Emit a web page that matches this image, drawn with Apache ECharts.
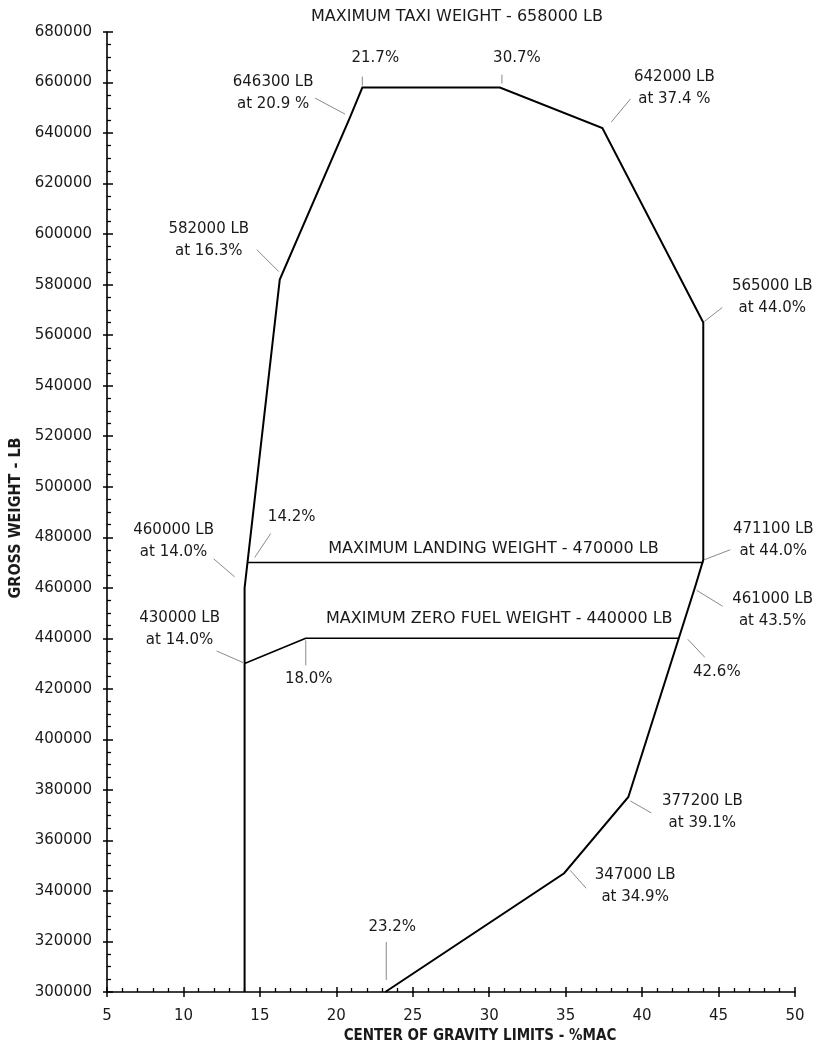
<!DOCTYPE html>
<html>
<head>
<meta charset="utf-8">
<script src="https://cdn.jsdelivr.net/npm/echarts@6/dist/echarts.min.js"></script>
<style>
html,body{margin:0;padding:0;background:#fff;}
#chart{width:816px;height:1048px;}
</style>
</head>
<body>
<div id="chart"></div>
<script>
// ---------------- data ----------------
const xMin = 5, xMax = 50, xStep = 5;
const yMin = 300000, yMax = 680000, yStep = 20000;

const chartTitle = 'MAXIMUM TAXI WEIGHT - 658000 LB';
const xTitle = 'CENTER OF GRAVITY LIMITS - %MAC';
const yTitle = 'GROSS WEIGHT - LB';

// envelope outline (CG %MAC, weight LB)
const envelopeCG     = [14.0, 14.0, 16.3, 20.9, 21.7, 30.7, 37.4, 44.0, 44.0, 43.5, 39.1, 34.9, 23.2];
const envelopeWeight = [300000, 460000, 582000, 646300, 658000, 658000, 642000, 565000, 471100, 461000, 377200, 347000, 300000];

// maximum landing weight line
const landingCG     = [14.2, 44.0];
const landingWeight = [470000, 470000];
const landingText   = 'MAXIMUM LANDING WEIGHT - 470000 LB';

// maximum zero fuel weight line
const zeroFuelCG     = [14.0, 18.0, 42.4];
const zeroFuelWeight = [430000, 440000, 440000];
const zeroFuelText   = 'MAXIMUM ZERO FUEL WEIGHT - 440000 LB';

// callouts
const calloutCG     = [20.9, 21.7, 30.7, 37.4, 16.3, 44.0, 14.0, 14.2, 14.0, 18.0, 44.0, 43.5, 42.4, 39.1, 34.9, 23.2];
const calloutWeight = [646300, 658000, 658000, 642000, 582000, 565000, 460000, 470000, 430000, 440000, 471100, 461000, 440000, 377200, 347000, 300000];
const calloutText   = [
  '646300 LB\nat 20.9 %', '21.7%', '30.7%', '642000 LB\nat 37.4 %',
  '582000 LB\nat 16.3%', '565000 LB\nat 44.0%', '460000 LB\nat 14.0%', '14.2%',
  '430000 LB\nat 14.0%', '18.0%', '471100 LB\nat 44.0%', '461000 LB\nat 43.5%',
  '42.6%', '377200 LB\nat 39.1%', '347000 LB\nat 34.9%', '23.2%'
];

// ---------------- layout (pixel offsets from anchor) ----------------
// [leaderStartDx, leaderStartDy, leaderEndDx, leaderEndDy, textDx, textDy]
const calloutLayout = [
  [-5,-3,-35,-19,-77,-24],
  [0,-2,0,-11,13,-29],
  [2,-4,2,-13,17,-29],
  [9,-6,28,-29,72,-40],
  [-1,-8,-23,-30,-71,-39],
  [1,-1,19,-15,69,-25],
  [-10,-11,-31,-29,-71,-47],
  [7,-5,23,-29,44,-45],
  [-1.5,-1,-28,-12.6,-65,-34],
  [0,2,0,27,3,41],
  [1,0,27,-10,70,-20],
  [1,5,27,21,77,25],
  [9,1,26,19,38,34],
  [2,4,23,16,74,15],
  [6,-3,22,15,71,13],
  [1,-12,1,-50,7,-65]
];
const landingTextOffset  = [18, -14];
const zeroFuelTextOffset = [7, -19];

const FONT = '"DejaVu Sans", Verdana, sans-serif';
const BOLDFONT = '"DejaVu Sans Condensed", "DejaVu Sans", sans-serif';
const TXT = '#1a1a1a';

function pairs(xs, ys) { return xs.map((x, i) => [x, ys[i]]); }

const chart = echarts.init(document.getElementById('chart'), null, {renderer: 'canvas'});

const baseX = {
  type: 'value', min: xMin, max: xMax, interval: xStep, position: 'bottom',
  splitLine: {show: false}
};
const baseY = {
  type: 'value', min: yMin, max: yMax, interval: yStep, position: 'left',
  splitLine: {show: false}
};

const option = {
  animation: false,
  backgroundColor: '#fff',
  grid: {left: 107, right: 21, top: 32, bottom: 56, containLabel: false, outerBoundsMode: 'none'},
  xAxis: [
    Object.assign({}, baseX, {
      axisLine: {show: true, onZero: false, lineStyle: {color: '#000', width: 1.6}},
      axisTick: {show: true, inside: true, length: 5, lineStyle: {color: '#000', width: 1.5}},
      minorTick: {show: true, splitNumber: 5, length: 4, lineStyle: {color: '#000', width: 1.3}},
      axisLabel: {margin: 17, fontFamily: FONT, fontSize: 15, color: TXT},
      name: xTitle, nameLocation: 'middle', nameGap: 35,
      nameTextStyle: {fontFamily: BOLDFONT, fontWeight: 'bold', fontSize: 15, color: TXT, padding: [0, 0, 0, 58]}
    }),
    Object.assign({}, baseX, {
      axisLine: {show: false, onZero: false},
      axisTick: {show: true, inside: false, length: 5, lineStyle: {color: '#000', width: 1.5}},
      axisLabel: {show: false}
    })
  ],
  yAxis: [
    Object.assign({}, baseY, {
      axisLine: {show: true, onZero: false, lineStyle: {color: '#000', width: 1.6}},
      axisTick: {show: true, inside: true, length: 6, lineStyle: {color: '#000', width: 1.5}},
      minorTick: {show: true, splitNumber: 4, length: 4, lineStyle: {color: '#000', width: 1.3}},
      axisLabel: {margin: 15, fontFamily: FONT, fontSize: 15, color: TXT, formatter: v => String(v)},
      name: yTitle, nameLocation: 'middle', nameGap: 81,
      nameTextStyle: {fontFamily: BOLDFONT, fontWeight: 'bold', fontSize: 16, color: TXT, padding: [0, 12, 0, 0]}
    }),
    Object.assign({}, baseY, {
      axisLine: {show: false, onZero: false},
      axisTick: {show: true, inside: false, length: 4, lineStyle: {color: '#000', width: 1.5}},
      axisLabel: {show: false}
    })
  ],
  graphic: [{
    type: 'text', x: 457, y: 17,
    style: {text: chartTitle, fill: TXT, font: '16px ' + FONT, align: 'center', verticalAlign: 'middle'}
  }],
  series: [
    {
      type: 'line', name: 'envelope', data: pairs(envelopeCG, envelopeWeight),
      symbol: 'none', clip: false,
      lineStyle: {color: '#000', width: 2, join: 'miter'}
    },
    {
      type: 'line', name: 'landing', data: pairs(landingCG, landingWeight),
      symbol: 'none', clip: false,
      lineStyle: {color: '#000', width: 1.6}
    },
    {
      type: 'line', name: 'zerofuel', data: pairs(zeroFuelCG, zeroFuelWeight),
      symbol: 'none', clip: false,
      lineStyle: {color: '#000', width: 1.6}
    },
    {
      type: 'custom', name: 'callouts', clip: false,
      data: calloutCG.map((x, i) => [x, calloutWeight[i], i]),
      renderItem: function (params, api) {
        const p = api.coord([api.value(0), api.value(1)]);
        const i = api.value(2);
        const L = calloutLayout[i];
        return {
          type: 'group',
          children: [
            {type: 'line', shape: {x1: p[0] + L[0], y1: p[1] + L[1], x2: p[0] + L[2], y2: p[1] + L[3]},
             style: {stroke: '#8a8a8a', lineWidth: 1}},
            {type: 'text', x: p[0] + L[4], y: p[1] + L[5],
             style: {text: calloutText[i], fill: TXT, font: '15px ' + FONT, align: 'center', verticalAlign: 'middle', lineHeight: 22}}
          ]
        };
      }
    },
    {
      type: 'custom', name: 'lineLabels', clip: false,
      data: [
        [(landingCG[0] + landingCG[landingCG.length - 1]) / 2, landingWeight[0], 0],
        [(zeroFuelCG[1] + zeroFuelCG[zeroFuelCG.length - 1]) / 2, zeroFuelWeight[1], 1]
      ],
      renderItem: function (params, api) {
        const p = api.coord([api.value(0), api.value(1)]);
        const k = api.value(2);
        const off = k === 0 ? landingTextOffset : zeroFuelTextOffset;
        return {
          type: 'text', x: p[0] + off[0], y: p[1] + off[1],
          style: {text: k === 0 ? landingText : zeroFuelText, fill: TXT, font: '16px ' + FONT, align: 'center', verticalAlign: 'middle'}
        };
      }
    }
  ]
};
chart.setOption(option);
</script>
</body>
</html>
